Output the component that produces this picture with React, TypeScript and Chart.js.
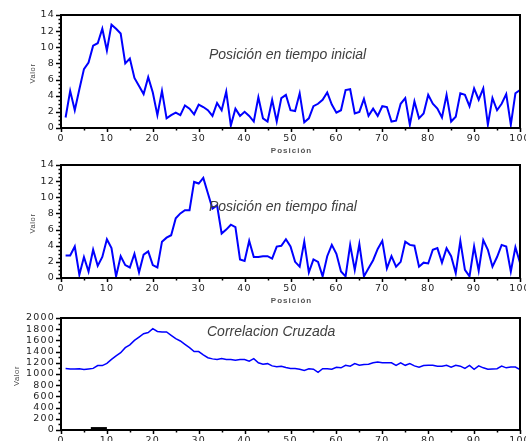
import { useEffect, useRef } from "react";
import { Chart, registerables } from "chart.js";

Chart.register(...registerables);

const POSICIONES = Array.from({ length: 100 }, (_, i) => i + 1);

const TIEMPO_INICIAL = [
  1.3, 4.6, 2.2, 4.8, 7.3, 8.1, 10.2, 10.5, 12.3, 9.6,
  12.8, 12.3, 11.7, 8.0, 8.6, 6.2, 5.2, 4.2, 6.3, 4.4,
  1.6, 4.6, 1.2, 1.6, 1.9, 1.6, 2.8, 2.4, 1.7, 2.9,
  2.6, 2.2, 1.5, 3.1, 2.2, 4.5, 0.3, 2.4, 1.5, 2.0,
  1.5, 0.8, 3.8, 1.2, 0.8, 3.5, 0.8, 3.7, 4.1, 2.2,
  2.1, 4.3, 0.7, 1.2, 2.7, 3.0, 3.5, 4.4, 2.9, 1.9,
  2.2, 4.7, 4.8, 1.8, 2.0, 3.6, 1.5, 2.4, 1.5, 2.7,
  2.6, 0.8, 0.9, 3.0, 3.7, 0.4, 3.3, 1.2, 1.8, 4.1,
  3.0, 2.4, 1.3, 4.1, 0.8, 1.4, 4.3, 4.1, 2.7, 4.9,
  3.5, 4.9, 0.4, 3.7, 2.2, 3.0, 4.2, 0.4, 4.3, 4.7,
];

const TIEMPO_FINAL = [
  2.8, 2.8, 3.9, 0.4, 2.6, 0.8, 3.5, 1.5, 2.6, 4.8,
  3.7, 0.2, 2.7, 1.6, 1.3, 3.0, 0.7, 2.9, 3.3, 1.6,
  1.3, 4.5, 5.0, 5.3, 7.4, 8.0, 8.4, 8.4, 11.9, 11.7,
  12.4, 10.5, 8.6, 9.0, 5.5, 6.0, 6.6, 6.3, 2.3, 2.1,
  4.6, 2.6, 2.6, 2.7, 2.7, 2.4, 3.9, 4.0, 4.8, 3.9,
  2.0, 1.4, 4.5, 0.7, 2.3, 2.0, 0.2, 2.7, 4.1, 3.0,
  0.8, 0.2, 4.1, 1.0, 4.2, 0.2, 1.2, 2.2, 3.6, 4.6,
  1.2, 2.7, 1.4, 2.0, 4.5, 4.1, 4.0, 1.4, 1.9, 1.8,
  3.5, 3.7, 1.9, 3.7, 2.7, 0.6, 4.6, 1.0, 0.2, 3.9,
  0.9, 4.7, 3.5, 1.4, 2.6, 4.1, 3.9, 0.8, 3.8, 1.9,
];

const CORRELACION = [
  1100, 1090, 1090, 1095, 1080, 1090, 1100, 1150, 1150, 1190,
  1260, 1325, 1380, 1470, 1520, 1600, 1660, 1720, 1740, 1810,
  1760, 1750, 1750, 1690, 1630, 1590, 1530, 1470, 1400, 1400,
  1340, 1290, 1270, 1260, 1275, 1260, 1260, 1245, 1260, 1260,
  1230, 1275, 1200, 1175, 1185, 1145, 1130, 1140, 1115, 1100,
  1100, 1085, 1065, 1095, 1085, 1030, 1095, 1095, 1085, 1120,
  1110, 1155, 1140, 1185, 1155, 1170, 1175, 1200, 1215, 1200,
  1200, 1200, 1155, 1200, 1155, 1185, 1145, 1120, 1150, 1155,
  1155, 1140, 1140, 1155, 1120, 1155, 1140, 1100, 1155, 1085,
  1145, 1110, 1085, 1090, 1095, 1140, 1110, 1125, 1125, 1080,
];

// small black marker near the baseline of the correlation panel
const MARCA_X = [6.5, 10];
const MARCA_Y = [30, 30];

const X_TICKS_STEP = 10;

type PanelOpts = {
  caption: string;
  yMax: number;
  yStep: number;
  yMinor: number;
  xTitle: boolean;
  valorX: number;
  padTop: number;
  xAxisHeight: number;
  lineWidth: number;
  capDx: number;
  capY: number;
};

const framePlugin = {
  id: "frame",
  beforeDraw(chart: any) {
    chart.ctx.letterSpacing = "1.2px";
  },
  afterDraw(chart: any, _args: any, o: any) {
    const { ctx, chartArea: a, scales } = chart;
    const x = scales.x;
    const y = scales.y;
    ctx.save();
    ctx.letterSpacing = "0px";
    ctx.strokeStyle = "#000";
    ctx.lineWidth = 2;
    ctx.strokeRect(a.left, a.top, a.right - a.left, a.bottom - a.top);
    ctx.lineWidth = 1.5;
    for (let v = 0; v <= o.yMax + 1e-9; v += o.yMinor) {
      const py = Math.round(y.getPixelForValue(v)) + 0.5;
      const r = v / o.yStep;
      const major = Math.abs(r - Math.round(r)) < 1e-6;
      const len = major ? 5 : 2.5;
      ctx.beginPath();
      ctx.moveTo(a.left, py);
      ctx.lineTo(a.left - len, py);
      ctx.stroke();
    }
    for (let v = 0; v <= 100; v += 5) {
      const px = Math.round(x.getPixelForValue(v)) + 0.5;
      const major = v % X_TICKS_STEP === 0;
      const len = major ? 4 : 2.5;
      ctx.beginPath();
      ctx.moveTo(px, a.bottom);
      ctx.lineTo(px, a.bottom + len);
      ctx.stroke();
    }
    ctx.fillStyle = "#404040";
    ctx.font = "italic 14px 'Liberation Sans', Arial, sans-serif";
    ctx.textAlign = "left";
    ctx.textBaseline = "middle";
    ctx.fillText(o.caption, a.left + o.capDx, o.capY);
    ctx.save();
    ctx.translate(o.valorX, (a.top + a.bottom) / 2 + 2);
    ctx.rotate(-Math.PI / 2);
    ctx.font = "7.5px 'Liberation Sans', Arial, sans-serif";
    ctx.letterSpacing = "0.6px";
    ctx.fillStyle = "#444";
    ctx.textAlign = "center";
    ctx.fillText("Valor", 0, 0);
    ctx.restore();
    if (o.xTitle) {
      ctx.font = "bold 8px 'Liberation Sans', Arial, sans-serif";
      ctx.letterSpacing = "1px";
      ctx.fillStyle = "#555";
      ctx.textAlign = "center";
      ctx.fillText("Posición", (a.left + a.right) / 2 + 1, a.bottom + 23);
    }
    ctx.restore();
  },
};

function makeConfig(values: number[], p: PanelOpts, extra: boolean): any {
  const datasets: any[] = [
    {
      label: p.caption,
      data: POSICIONES.map((pos, i) => ({ x: pos, y: values[i] })),
      borderColor: "#0000ff",
      borderWidth: p.lineWidth,
      pointRadius: 0,
      tension: 0,
      fill: false,
    },
  ];
  if (extra) {
    datasets.push({
      label: "marca",
      data: MARCA_X.map((mx, i) => ({ x: mx, y: MARCA_Y[i] })),
      borderColor: "#000",
      borderWidth: 2.5,
      pointRadius: 0,
      fill: false,
    });
  }
  const tickFont = { family: "'DejaVu Sans', sans-serif", size: 9.5 };
  return {
    type: "line",
    data: { datasets },
    options: {
      animation: false,
      responsive: false,
      events: [],
      layout: { padding: { top: p.padTop, right: 6, left: 0, bottom: 0 } },
      plugins: {
        legend: { display: false },
        tooltip: { enabled: false },
        frame: { ...p },
      },
      scales: {
        x: {
          type: "linear",
          min: 0,
          max: 100,
          ticks: {
            stepSize: X_TICKS_STEP,
            font: tickFont,
            color: "#222",
            padding: 1,
            maxRotation: 0,
            autoSkip: false,
            callback: (v: any) => String(v),
          },
          grid: { display: true, drawOnChartArea: false, drawTicks: true, tickLength: 4, tickColor: "rgba(0,0,0,0)" },
          border: { display: false },
          afterFit(s: any) {
            s.height = p.xAxisHeight;
            s.paddingLeft = 0;
            s.paddingRight = 0;
          },
        },
        y: {
          min: 0,
          max: p.yMax,
          ticks: {
            stepSize: p.yStep,
            font: tickFont,
            color: "#222",
            padding: 1,
            autoSkip: false,
            callback: (v: any) => String(v),
          },
          grid: { display: true, drawOnChartArea: false, drawTicks: true, tickLength: 5, tickColor: "rgba(0,0,0,0)" },
          border: { display: false },
          afterFit(s: any) {
            s.width = 61;
            s.paddingTop = 0;
            s.paddingBottom = 0;
          },
        },
      },
    },
    plugins: [framePlugin],
  };
}

function Panel({ top, height, config }: { top: number; height: number; config: any }) {
  const ref = useRef<HTMLCanvasElement | null>(null);
  useEffect(() => {
    if (!ref.current) return;
    const chart = new Chart(ref.current, config);
    return () => chart.destroy();
  }, []);
  return (
    <canvas
      ref={ref}
      width={526}
      height={height}
      style={{ position: "absolute", left: 0, top, width: 526, height, display: "block" }}
    />
  );
}

export default function App() {
  const c1 = makeConfig(
    TIEMPO_INICIAL,
    { caption: "Posición en tiempo inicial", yMax: 14, yStep: 2, yMinor: 0.5, xTitle: true, valorX: 33, padTop: 15, xAxisHeight: 32, lineWidth: 2, capDx: 148, capY: 55 },
    false
  );
  const c2 = makeConfig(
    TIEMPO_FINAL,
    { caption: "Posición en tiempo final", yMax: 14, yStep: 2, yMinor: 0.5, xTitle: true, valorX: 33, padTop: 15, xAxisHeight: 32, lineWidth: 2, capDx: 148, capY: 57 },
    false
  );
  const c3 = makeConfig(
    CORRELACION,
    { caption: "Correlacion Cruzada", yMax: 2000, yStep: 200, yMinor: 100, xTitle: false, valorX: 17, padTop: 33, xAxisHeight: 11, lineWidth: 1.5, capDx: 146, capY: 47 },
    true
  );
  return (
    <div style={{ position: "fixed", left: 0, top: 0, width: 526, height: 441, background: "#fff", overflow: "hidden" }}>
      <Panel top={0} height={160} config={c1} />
      <Panel top={150} height={160} config={c2} />
      <Panel top={285} height={156} config={c3} />
    </div>
  );
}
